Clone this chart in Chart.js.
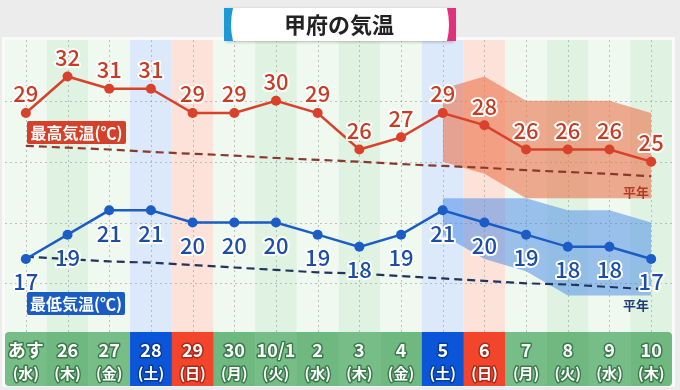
<!DOCTYPE html>
<html>
<head>
<meta charset="utf-8">
<script src="https://cdn.jsdelivr.net/npm/chart.js@4/dist/chart.umd.min.js"></script>
<style>
  body { margin: 0; background: #ececec; }
  #wrap { width: 680px; height: 390px; }
</style>
</head>
<body>
<div id="wrap"><canvas id="chart" width="680" height="390"></canvas></div>
<script>
// 甲府の気温 - 2週間予報
const days = ['あす','26','27','28','29','30','10/1','2','3','4','5','6','7','8','9','10']
const weekdays = ['水','木','金','土','日','月','火','水','木','金','土','日','月','火','水','木']
const highTemps = [29,32,31,31,29,29,30,29,26,27,29,28,26,26,26,25]
const lowTemps = [17,19,21,21,20,20,20,19,18,19,21,20,19,18,18,17]
const highNormal = [26.3,26.15,26.0,25.8,25.65,25.5,25.3,25.15,25.0,24.8,24.65,24.5,24.3,24.15,24.0,23.8]
const lowNormal = [17.2,17.0,16.8,16.7,16.5,16.3,16.1,15.9,15.8,15.6,15.4,15.2,15.0,14.9,14.7,14.5]
const highRangeTop = [null,null,null,null,null,null,null,null,null,null,31,32,30,30,30,29]
const highRangeBottom = [null,null,null,null,null,null,null,null,null,null,25,24,22,22,22,22]
const lowRangeTop = [null,null,null,null,null,null,null,null,null,null,22,22,22,21,21,20]
const lowRangeBottom = [null,null,null,null,null,null,null,null,null,null,19,17,16,14,14,14]
const yTicks = [15,20,25,30]

const RED = '#d9412b', BLUE = '#1c5cc6'
const FONT = '"Noto Sans CJK JP", "Noto Sans", sans-serif'

function colBg(i){
	if(weekdays[i]==='土') return '#dce9fb'
	if(weekdays[i]==='日') return '#fde2da'
	if(weekdays[i]==='火' || weekdays[i]==='木') return '#e0f3e2'
	return '#eff9ef'
}
function cellBg(i){
	if(weekdays[i]==='土') return '#0b56d8'
	if(weekdays[i]==='日') return '#f2452c'
	return i%2 ? '#6fb880' : '#77bd87'
}

function roundRect(ctx,x,y,w,h,r){
	ctx.beginPath(); ctx.moveTo(x+r,y); ctx.lineTo(x+w-r,y); ctx.quadraticCurveTo(x+w,y,x+w,y+r)
	ctx.lineTo(x+w,y+h-r); ctx.quadraticCurveTo(x+w,y+h,x+w-r,y+h); ctx.lineTo(x+r,y+h)
	ctx.quadraticCurveTo(x,y+h,x,y+h-r); ctx.lineTo(x,y+r); ctx.quadraticCurveTo(x,y,x+r,y); ctx.closePath()
}

const backdrop = {
	id: 'backdrop',
	beforeDraw(chart){
		const ctx = chart.ctx, a = chart.chartArea, xs = chart.scales.x, ys = chart.scales.y
		const cw = xs.getPixelForValue(1) - xs.getPixelForValue(0)
		ctx.save()
		ctx.fillStyle = '#ececec'; ctx.fillRect(0,0,chart.width,chart.height)
		// plot frame
		ctx.fillStyle = '#fafafa'; ctx.fillRect(a.left-3, a.top-3, a.right-a.left+6, chart.height-a.top)
		days.forEach((d,i)=>{
			const cx = xs.getPixelForValue(i)
			ctx.fillStyle = colBg(i); ctx.fillRect(cx-cw/2, a.top, cw, a.bottom-a.top)
		})
		// grid
		ctx.strokeStyle = 'rgba(150,150,150,0.55)'; ctx.lineWidth = 1; ctx.setLineDash([2,3])
		yTicks.forEach(v=>{ const y = Math.round(ys.getPixelForValue(v))+0.5; ctx.beginPath(); ctx.moveTo(a.left,y); ctx.lineTo(a.right,y); ctx.stroke() })
		days.forEach((d,i)=>{ const x = Math.round(xs.getPixelForValue(i))+0.5; ctx.beginPath(); ctx.moveTo(x,a.top); ctx.lineTo(x,a.bottom); ctx.stroke() })
		ctx.setLineDash([])
		// bottom date cells
		const top = a.bottom, h = 54
		ctx.save(); roundRect(ctx, a.left, top, a.right-a.left, h, 4); ctx.clip()
		days.forEach((d,i)=>{
			const cx = xs.getPixelForValue(i)
			ctx.fillStyle = cellBg(i); ctx.fillRect(cx-cw/2, top, cw+0.5, h)
		})
		ctx.restore()
		ctx.textAlign = 'center'; ctx.textBaseline = 'middle'; ctx.lineJoin = 'round'
		days.forEach((d,i)=>{
			const cx = xs.getPixelForValue(i)
			const sh = weekdays[i]==='土' ? '#083c9a' : weekdays[i]==='日' ? '#a82a18' : '#3c7a4c'
			ctx.font = 'bold 18px ' + FONT
			ctx.strokeStyle = sh; ctx.lineWidth = 3; ctx.strokeText(d, cx, top+18)
			ctx.fillStyle = '#fff'; ctx.fillText(d, cx, top+18)
			ctx.font = 'bold 15px ' + FONT
			ctx.strokeText('('+weekdays[i]+')', cx, top+41)
			ctx.fillText('('+weekdays[i]+')', cx, top+41)
		})
		// title
		ctx.shadowColor = 'rgba(0,0,0,0.25)'; ctx.shadowBlur = 3; ctx.shadowOffsetY = 1
		ctx.fillStyle = '#fff'; ctx.fillRect(226, 8, 228, 33)
		ctx.shadowColor = 'transparent'
		ctx.fillStyle = '#1d9ad6'
		ctx.beginPath(); ctx.moveTo(224,8); ctx.lineTo(233,8); ctx.quadraticCurveTo(229,24.5,233,41); ctx.lineTo(224,41); ctx.closePath(); ctx.fill()
		ctx.fillStyle = '#e0327c'
		ctx.beginPath(); ctx.moveTo(456,8); ctx.lineTo(447,8); ctx.quadraticCurveTo(451,24.5,447,41); ctx.lineTo(456,41); ctx.closePath(); ctx.fill()
		ctx.fillStyle = '#222'; ctx.font = 'bold 22px ' + FONT
		ctx.fillText('甲府の気温', 339, 25)
		ctx.restore()
	}
}

const valueLabels = {
	id: 'valueLabels',
	afterDatasetsDraw(chart){
		const ctx = chart.ctx
		ctx.save()
		ctx.textAlign = 'center'; ctx.textBaseline = 'middle'; ctx.lineJoin = 'round'
		ctx.font = '500 22px ' + FONT
		const hi = chart.getDatasetMeta(4).data, lo = chart.getDatasetMeta(5).data
		hi.forEach((p,i)=>{
			ctx.strokeStyle = '#fff'; ctx.lineWidth = 4; ctx.strokeText(highTemps[i], p.x, p.y-19)
			ctx.fillStyle = '#c93c24'; ctx.fillText(highTemps[i], p.x, p.y-19)
		})
		lo.forEach((p,i)=>{
			ctx.strokeStyle = '#fff'; ctx.lineWidth = 4; ctx.strokeText(lowTemps[i], p.x, p.y+23)
			ctx.fillStyle = '#1a4ea8'; ctx.fillText(lowTemps[i], p.x, p.y+23)
		})
		// series tags
		ctx.font = 'bold 16px ' + FONT
		ctx.fillStyle = '#d4402a'; roundRect(ctx, 27, 121, 99, 23, 2); ctx.fill()
		ctx.fillStyle = '#fff'; ctx.fillText('最高気温(℃)', 76.5, 132.5)
		ctx.fillStyle = '#1a5cc4'; roundRect(ctx, 27, 292, 98, 23, 2); ctx.fill()
		ctx.fillStyle = '#fff'; ctx.fillText('最低気温(℃)', 76, 303.5)
		ctx.font = 'bold 13px ' + FONT
		ctx.fillStyle = '#b23c26'; ctx.fillText('平年', 636, 192)
		ctx.fillStyle = '#1e3c78'; ctx.fillText('平年', 636, 305)
		ctx.restore()
	}
}

const line = (data, color) => ({
	data, borderColor: color, backgroundColor: color, borderWidth: 2.5,
	pointRadius: 5, pointHoverRadius: 5, pointBorderWidth: 0, tension: 0, fill: false, order: 0
})

new Chart(document.getElementById('chart'), {
	type: 'line',
	data: {
		labels: days,
		datasets: [
			{ data: highRangeTop, fill: '+1', backgroundColor: 'rgba(236,110,70,0.58)', borderWidth: 0, pointRadius: 0, order: 10 },
			{ data: highRangeBottom, fill: false, borderWidth: 0, pointRadius: 0, order: 10 },
			{ data: lowRangeTop, fill: '+1', backgroundColor: 'rgba(58,128,232,0.47)', borderWidth: 0, pointRadius: 0, order: 10 },
			{ data: lowRangeBottom, fill: false, borderWidth: 0, pointRadius: 0, order: 10 },
			line(highTemps, RED),
			line(lowTemps, BLUE),
			{ data: highNormal, borderColor: '#8a3a2c', borderWidth: 2.2, borderDash: [8,5], pointRadius: 0, fill: false, order: 5 },
			{ data: lowNormal, borderColor: '#20355e', borderWidth: 2.2, borderDash: [8,5], pointRadius: 0, fill: false, order: 5 }
		]
	},
	options: {
		responsive: false,
		animation: false,
		layout: { padding: { left: 5, right: 8, top: 40, bottom: 58 } },
		scales: {
			x: { type: 'category', offset: true, display: false },
			y: { min: 11, max: 35, display: false }
		},
		plugins: { legend: { display: false }, tooltip: { enabled: false } }
	},
	plugins: [backdrop, valueLabels]
})
</script>
</body>
</html>
